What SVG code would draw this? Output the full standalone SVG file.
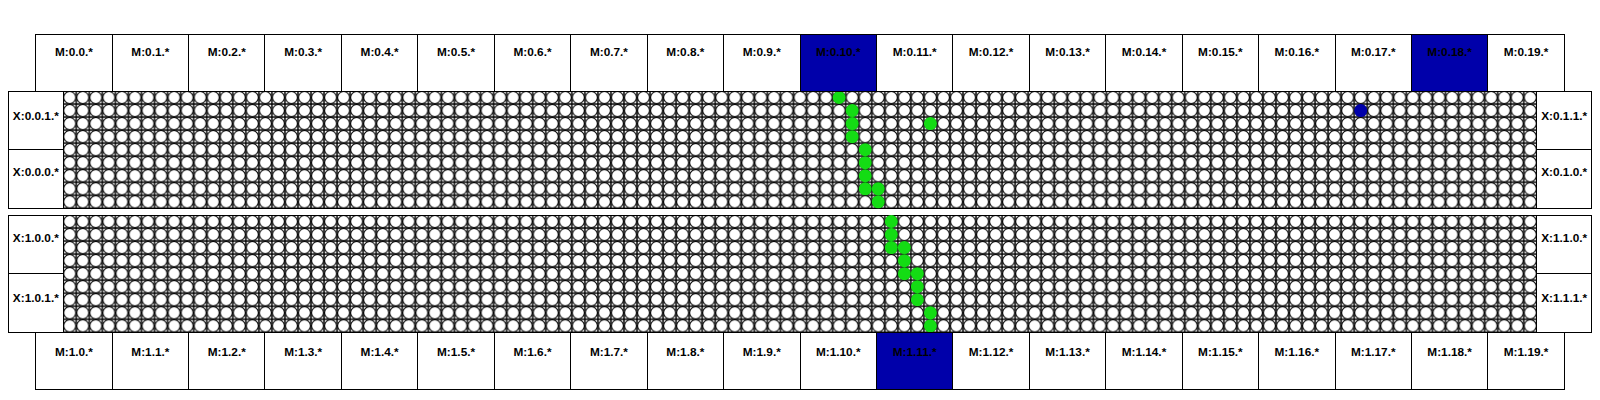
<svg xmlns="http://www.w3.org/2000/svg" width="1600" height="400" viewBox="0 0 1600 400">
<style>
.box{fill:#ffffff;stroke:#000000;stroke-width:1;shape-rendering:crispEdges}
.sel{fill:#0000aa}
.lbl{font-family:"Liberation Sans",Arial,sans-serif;font-weight:bold;font-size:11.8px;fill:#000000;text-anchor:middle}
.gridborder{fill:none;stroke:#000000;stroke-width:1;shape-rendering:crispEdges}
.g{fill:#14dc14}
.b{fill:#0000aa}
</style>
<defs>
<pattern id="cells1" patternUnits="userSpaceOnUse" x="63.25" y="91" width="13.04" height="13.04">
<rect x="0" y="0" width="13.04" height="13.04" fill="#ffffff"/>
<path d="M0 0V13.04M13.04 0V13.04M0 0H13.04M0 13.04H13.04" stroke="#000000" stroke-width="1.4" fill="none"/>
<circle cx="6.52" cy="6.52" r="6.0" fill="#ffffff" stroke="#000000" stroke-width="1.05"/>
</pattern>
<pattern id="cells2" patternUnits="userSpaceOnUse" x="63.25" y="215" width="13.04" height="13.04">
<rect x="0" y="0" width="13.04" height="13.04" fill="#ffffff"/>
<path d="M0 0V13.04M13.04 0V13.04M0 0H13.04M0 13.04H13.04" stroke="#000000" stroke-width="1.4" fill="none"/>
<circle cx="6.52" cy="6.52" r="6.0" fill="#ffffff" stroke="#000000" stroke-width="1.05"/>
</pattern>
</defs>
<rect x="0" y="0" width="1600" height="400" fill="#ffffff"/>

<g id="grid0">
<rect x="63.25" y="91" width="1473.5" height="117.36" fill="url(#cells1)"/>
<rect class="gridborder" x="63.25" y="91" width="1473.5" height="117.36"/>
</g>
<g id="grid1">
<rect x="63.25" y="215" width="1473.5" height="117.36" fill="url(#cells2)"/>
<rect class="gridborder" x="63.25" y="215" width="1473.5" height="117.36"/>
</g>

<g id="connectors">
<circle class="g" cx="839.13" cy="97.52" r="6.5"/>
<circle class="g" cx="852.17" cy="110.56" r="6.5"/>
<circle class="g" cx="852.17" cy="123.60" r="6.5"/>
<circle class="g" cx="930.41" cy="123.60" r="6.5"/>
<circle class="g" cx="852.17" cy="136.64" r="6.5"/>
<circle class="g" cx="865.21" cy="149.68" r="6.5"/>
<circle class="g" cx="865.21" cy="162.72" r="6.5"/>
<circle class="g" cx="865.21" cy="175.76" r="6.5"/>
<circle class="g" cx="865.21" cy="188.80" r="6.5"/>
<circle class="g" cx="878.25" cy="188.80" r="6.5"/>
<circle class="g" cx="878.25" cy="201.84" r="6.5"/>
<circle class="b" cx="1360.73" cy="110.56" r="6.5"/>
<circle class="g" cx="891.29" cy="221.52" r="6.5"/>
<circle class="g" cx="891.29" cy="234.56" r="6.5"/>
<circle class="g" cx="891.29" cy="247.60" r="6.5"/>
<circle class="g" cx="904.33" cy="247.60" r="6.5"/>
<circle class="g" cx="904.33" cy="260.64" r="6.5"/>
<circle class="g" cx="904.33" cy="273.68" r="6.5"/>
<circle class="g" cx="917.37" cy="273.68" r="6.5"/>
<circle class="g" cx="917.37" cy="286.72" r="6.5"/>
<circle class="g" cx="917.37" cy="299.76" r="6.5"/>
<circle class="g" cx="930.41" cy="312.80" r="6.5"/>
<circle class="g" cx="930.41" cy="325.84" r="6.5"/>
</g>

<g id="xboxes">
<g id="X_0_0_1"><rect class="box" x="8.3" y="91" width="54.95" height="58.68"/><text class="lbl" x="35.8" y="120">X:0.0.1.*</text></g>
<g id="X_0_0_0"><rect class="box" x="8.3" y="149.68" width="54.95" height="58.68"/><text class="lbl" x="35.8" y="176">X:0.0.0.*</text></g>
<g id="X_0_1_1"><rect class="box" x="1536.75" y="91" width="54.95" height="58.68"/><text class="lbl" x="1564.2" y="120">X:0.1.1.*</text></g>
<g id="X_0_1_0"><rect class="box" x="1536.75" y="149.68" width="54.95" height="58.68"/><text class="lbl" x="1564.2" y="176">X:0.1.0.*</text></g>
<g id="X_1_0_0"><rect class="box" x="8.3" y="215" width="54.95" height="58.68"/><text class="lbl" x="35.8" y="242">X:1.0.0.*</text></g>
<g id="X_1_0_1"><rect class="box" x="8.3" y="273.68" width="54.95" height="58.68"/><text class="lbl" x="35.8" y="302">X:1.0.1.*</text></g>
<g id="X_1_1_0"><rect class="box" x="1536.75" y="215" width="54.95" height="58.68"/><text class="lbl" x="1564.2" y="242">X:1.1.0.*</text></g>
<g id="X_1_1_1"><rect class="box" x="1536.75" y="273.68" width="54.95" height="58.68"/><text class="lbl" x="1564.2" y="302">X:1.1.1.*</text></g>
</g>

<g id="mtop">
<g id="M_0_0"><rect class="box" x="35.70" y="34.5" width="76.43" height="56.5"/><text class="lbl" x="73.92" y="56">M:0.0.*</text></g>
<g id="M_0_1"><rect class="box" x="112.13" y="34.5" width="76.43" height="56.5"/><text class="lbl" x="150.35" y="56">M:0.1.*</text></g>
<g id="M_0_2"><rect class="box" x="188.56" y="34.5" width="76.43" height="56.5"/><text class="lbl" x="226.78" y="56">M:0.2.*</text></g>
<g id="M_0_3"><rect class="box" x="264.99" y="34.5" width="76.43" height="56.5"/><text class="lbl" x="303.21" y="56">M:0.3.*</text></g>
<g id="M_0_4"><rect class="box" x="341.42" y="34.5" width="76.43" height="56.5"/><text class="lbl" x="379.64" y="56">M:0.4.*</text></g>
<g id="M_0_5"><rect class="box" x="417.85" y="34.5" width="76.43" height="56.5"/><text class="lbl" x="456.07" y="56">M:0.5.*</text></g>
<g id="M_0_6"><rect class="box" x="494.28" y="34.5" width="76.43" height="56.5"/><text class="lbl" x="532.50" y="56">M:0.6.*</text></g>
<g id="M_0_7"><rect class="box" x="570.71" y="34.5" width="76.43" height="56.5"/><text class="lbl" x="608.93" y="56">M:0.7.*</text></g>
<g id="M_0_8"><rect class="box" x="647.14" y="34.5" width="76.43" height="56.5"/><text class="lbl" x="685.36" y="56">M:0.8.*</text></g>
<g id="M_0_9"><rect class="box" x="723.57" y="34.5" width="76.43" height="56.5"/><text class="lbl" x="761.79" y="56">M:0.9.*</text></g>
<g id="M_0_10"><rect class="box sel" x="800.00" y="34.5" width="76.43" height="56.5"/><text class="lbl" x="838.22" y="56">M:0.10.*</text></g>
<g id="M_0_11"><rect class="box" x="876.43" y="34.5" width="76.43" height="56.5"/><text class="lbl" x="914.65" y="56">M:0.11.*</text></g>
<g id="M_0_12"><rect class="box" x="952.86" y="34.5" width="76.43" height="56.5"/><text class="lbl" x="991.08" y="56">M:0.12.*</text></g>
<g id="M_0_13"><rect class="box" x="1029.29" y="34.5" width="76.43" height="56.5"/><text class="lbl" x="1067.51" y="56">M:0.13.*</text></g>
<g id="M_0_14"><rect class="box" x="1105.72" y="34.5" width="76.43" height="56.5"/><text class="lbl" x="1143.94" y="56">M:0.14.*</text></g>
<g id="M_0_15"><rect class="box" x="1182.15" y="34.5" width="76.43" height="56.5"/><text class="lbl" x="1220.37" y="56">M:0.15.*</text></g>
<g id="M_0_16"><rect class="box" x="1258.58" y="34.5" width="76.43" height="56.5"/><text class="lbl" x="1296.80" y="56">M:0.16.*</text></g>
<g id="M_0_17"><rect class="box" x="1335.01" y="34.5" width="76.43" height="56.5"/><text class="lbl" x="1373.23" y="56">M:0.17.*</text></g>
<g id="M_0_18"><rect class="box sel" x="1411.44" y="34.5" width="76.43" height="56.5"/><text class="lbl" x="1449.66" y="56">M:0.18.*</text></g>
<g id="M_0_19"><rect class="box" x="1487.87" y="34.5" width="76.43" height="56.5"/><text class="lbl" x="1526.09" y="56">M:0.19.*</text></g>
</g>

<g id="mbottom">
<g id="M_1_0"><rect class="box" x="35.70" y="332.36" width="76.43" height="56.64"/><text class="lbl" x="73.92" y="355.5">M:1.0.*</text></g>
<g id="M_1_1"><rect class="box" x="112.13" y="332.36" width="76.43" height="56.64"/><text class="lbl" x="150.35" y="355.5">M:1.1.*</text></g>
<g id="M_1_2"><rect class="box" x="188.56" y="332.36" width="76.43" height="56.64"/><text class="lbl" x="226.78" y="355.5">M:1.2.*</text></g>
<g id="M_1_3"><rect class="box" x="264.99" y="332.36" width="76.43" height="56.64"/><text class="lbl" x="303.21" y="355.5">M:1.3.*</text></g>
<g id="M_1_4"><rect class="box" x="341.42" y="332.36" width="76.43" height="56.64"/><text class="lbl" x="379.64" y="355.5">M:1.4.*</text></g>
<g id="M_1_5"><rect class="box" x="417.85" y="332.36" width="76.43" height="56.64"/><text class="lbl" x="456.07" y="355.5">M:1.5.*</text></g>
<g id="M_1_6"><rect class="box" x="494.28" y="332.36" width="76.43" height="56.64"/><text class="lbl" x="532.50" y="355.5">M:1.6.*</text></g>
<g id="M_1_7"><rect class="box" x="570.71" y="332.36" width="76.43" height="56.64"/><text class="lbl" x="608.93" y="355.5">M:1.7.*</text></g>
<g id="M_1_8"><rect class="box" x="647.14" y="332.36" width="76.43" height="56.64"/><text class="lbl" x="685.36" y="355.5">M:1.8.*</text></g>
<g id="M_1_9"><rect class="box" x="723.57" y="332.36" width="76.43" height="56.64"/><text class="lbl" x="761.79" y="355.5">M:1.9.*</text></g>
<g id="M_1_10"><rect class="box" x="800.00" y="332.36" width="76.43" height="56.64"/><text class="lbl" x="838.22" y="355.5">M:1.10.*</text></g>
<g id="M_1_11"><rect class="box sel" x="876.43" y="332.36" width="76.43" height="56.64"/><text class="lbl" x="914.65" y="355.5">M:1.11.*</text></g>
<g id="M_1_12"><rect class="box" x="952.86" y="332.36" width="76.43" height="56.64"/><text class="lbl" x="991.08" y="355.5">M:1.12.*</text></g>
<g id="M_1_13"><rect class="box" x="1029.29" y="332.36" width="76.43" height="56.64"/><text class="lbl" x="1067.51" y="355.5">M:1.13.*</text></g>
<g id="M_1_14"><rect class="box" x="1105.72" y="332.36" width="76.43" height="56.64"/><text class="lbl" x="1143.94" y="355.5">M:1.14.*</text></g>
<g id="M_1_15"><rect class="box" x="1182.15" y="332.36" width="76.43" height="56.64"/><text class="lbl" x="1220.37" y="355.5">M:1.15.*</text></g>
<g id="M_1_16"><rect class="box" x="1258.58" y="332.36" width="76.43" height="56.64"/><text class="lbl" x="1296.80" y="355.5">M:1.16.*</text></g>
<g id="M_1_17"><rect class="box" x="1335.01" y="332.36" width="76.43" height="56.64"/><text class="lbl" x="1373.23" y="355.5">M:1.17.*</text></g>
<g id="M_1_18"><rect class="box" x="1411.44" y="332.36" width="76.43" height="56.64"/><text class="lbl" x="1449.66" y="355.5">M:1.18.*</text></g>
<g id="M_1_19"><rect class="box" x="1487.87" y="332.36" width="76.43" height="56.64"/><text class="lbl" x="1526.09" y="355.5">M:1.19.*</text></g>
</g>
</svg>
